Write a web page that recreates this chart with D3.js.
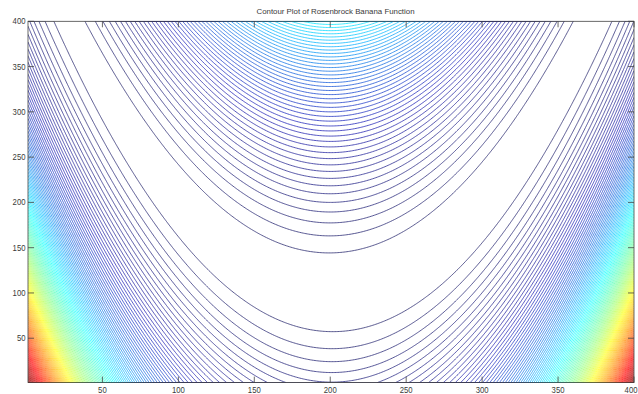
<!DOCTYPE html>
<html>
<head>
<meta charset="utf-8">
<script src="https://cdn.jsdelivr.net/npm/d3@7"></script>
<style>
  html, body { margin: 0; padding: 0; background: #fff; }
  svg { display: block; }
  text { font-family: "Liberation Sans", Arial, sans-serif; fill: #3a3a3a; }
</style>
</head>
<body>
<svg id="chart" width="638" height="394"></svg>
<script>
// ---- data / definition of the plotted surface ----
const titleText = "Contour Plot of Rosenbrock Banana Function";
const gridSize = 400;              // Z is a 400 x 400 matrix, plotted by index
const xDomain = [-2, 2];           // x values spanned by the columns
const yDomain = [-1, 3];           // y values spanned by the rows
const levelStep = 20;              // contour levels every 20 units
const xTicks = [50, 100, 150, 200, 250, 300, 350, 400];
const yTicks = [50, 100, 150, 200, 250, 300, 350, 400];

// Rosenbrock banana function
function rosenbrock(x, y) { return 100 * (y - x * x) ** 2 + (1 - x) ** 2; }

// ---- build matrix ----
const xs = d3.range(gridSize).map(i => xDomain[0] + (xDomain[1] - xDomain[0]) * i / (gridSize - 1));
const ys = d3.range(gridSize).map(j => yDomain[0] + (yDomain[1] - yDomain[0]) * j / (gridSize - 1));
const values = new Float64Array(gridSize * gridSize);
for (let j = 0; j < gridSize; j++)
  for (let i = 0; i < gridSize; i++)
    values[i + j * gridSize] = rosenbrock(xs[i], ys[j]);
const zExtent = d3.extent(values);
const thresholds = d3.range(levelStep, zExtent[1], levelStep);

// ---- layout ----
const svg = d3.select("#chart");
const plot = { left: 28, right: 634, top: 21.3, bottom: 382.6 };
const x = d3.scaleLinear().domain([1, gridSize]).range([plot.left, plot.right]);
const y = d3.scaleLinear().domain([1, gridSize]).range([plot.bottom, plot.top]);

function jet(t) {
  const c = v => Math.max(0, Math.min(1, v));
  const r = c(1.5 - Math.abs(4 * t - 3));
  const g = c(1.5 - Math.abs(4 * t - 2));
  const b = c(1.5 - Math.abs(4 * t - 1));
  return d3.rgb(r * 255, g * 255, b * 255);
}
// the low (blue) end of the reference looks dark and greyish
const greyMix = d3.scaleLinear().domain([0, 0.12, 0.3]).range([0.55, 0.45, 0]).clamp(true);
const color = v => {
  const t = (v - zExtent[0]) / (zExtent[1] - zExtent[0]);
  return d3.interpolateRgb(jet(t), "#3c3c50")(greyMix(t));
};

svg.append("defs").append("clipPath").attr("id", "clip")
  .append("rect")
  .attr("x", plot.left).attr("y", plot.top)
  .attr("width", plot.right - plot.left).attr("height", plot.bottom - plot.top);

const contours = d3.contours().size([gridSize, gridSize]).thresholds(thresholds)(values);
const proj = d3.geoTransform({
  point: function (gx, gy) { this.stream.point(x(gx + 0.5), y(gy + 0.5)); }
});
const path = d3.geoPath(proj);

svg.append("g").attr("clip-path", "url(#clip)")
  .selectAll("path").data(contours).join("path")
  .attr("d", path)
  .attr("fill", "none")
  .attr("stroke", d => color(d.value))
  .attr("stroke-width", 0.75);

// ---- box and ticks ----
const axisColor = "#444";
svg.append("rect")
  .attr("x", plot.left).attr("y", plot.top)
  .attr("width", plot.right - plot.left).attr("height", plot.bottom - plot.top)
  .attr("fill", "none").attr("stroke", axisColor).attr("stroke-width", 0.8);

const tickLen = 6;
const tg = svg.append("g").attr("stroke", axisColor).attr("stroke-width", 0.8);
xTicks.forEach(v => {
  tg.append("line").attr("x1", x(v)).attr("x2", x(v)).attr("y1", plot.bottom).attr("y2", plot.bottom - tickLen);
  tg.append("line").attr("x1", x(v)).attr("x2", x(v)).attr("y1", plot.top).attr("y2", plot.top + tickLen);
});
yTicks.forEach(v => {
  tg.append("line").attr("y1", y(v)).attr("y2", y(v)).attr("x1", plot.left).attr("x2", plot.left + tickLen);
  tg.append("line").attr("y1", y(v)).attr("y2", y(v)).attr("x1", plot.right).attr("x2", plot.right - tickLen);
});

const digitW = 4.3;
svg.append("g").selectAll("text").data(xTicks).join("text")
  .attr("x", d => Math.min(x(d), 637.5 - String(d).length * digitW / 2))
  .attr("y", 393.3)
  .attr("text-anchor", "middle")
  .attr("font-size", 8.5)
  .attr("textLength", d => String(d).length * digitW)
  .attr("lengthAdjust", "spacingAndGlyphs")
  .text(d => d);

svg.append("g").selectAll("text").data(yTicks).join("text")
  .attr("x", 25.5).attr("y", d => y(d) + 3)
  .attr("text-anchor", "end")
  .attr("font-size", 8.5)
  .attr("textLength", d => String(d).length * digitW)
  .attr("lengthAdjust", "spacingAndGlyphs")
  .text(d => d);

svg.append("text")
  .attr("x", 335.5).attr("y", 14)
  .attr("text-anchor", "middle")
  .attr("font-size", 8)
  .attr("textLength", 158)
  .attr("lengthAdjust", "spacingAndGlyphs")
  .text(titleText);
</script>
</body>
</html>
